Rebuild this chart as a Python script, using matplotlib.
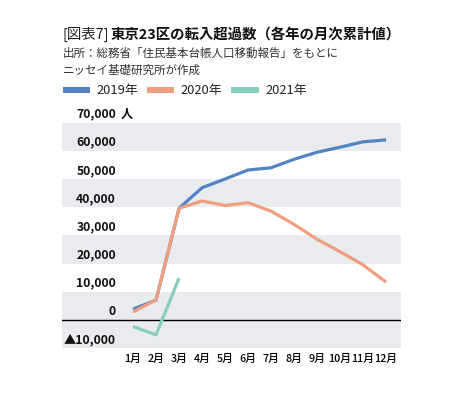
import matplotlib
matplotlib.use('Agg')
import matplotlib.pyplot as plt
import matplotlib.transforms as mtransforms
from matplotlib.patches import Rectangle

plt.rcParams['font.family'] = ['Noto Sans CJK JP', 'DejaVu Sans']

months = ['1月', '2月', '3月', '4月', '5月', '6月', '7月', '8月', '9月', '10月', '11月', '12月']
y2019 = [3800, 7000, 39600, 46900, 50000, 53200, 54000, 57000, 59500, 61300, 63200, 63900]
y2020 = [2800, 7100, 39600, 42200, 40600, 41600, 38600, 33900, 28600, 24200, 19500, 13400]
y2021 = [-2400, -5300, 14800]
yticks = [-10000, 0, 10000, 20000, 30000, 40000, 50000, 60000, 70000]
ytick_labels = ['▲10,000', '0', '10,000', '20,000', '30,000', '40,000', '50,000', '60,000', '70,000']
bands = [(60000, 70000), (40000, 50000), (20000, 30000), (0, 10000), (-10000, 0)]

c2019 = '#5283c4'
c2020 = '#ef9f7f'
c2021 = '#88cdbd'
band_color = '#e9ebee'

fig = plt.figure(figsize=(4.65, 3.95), dpi=100)
ax = fig.add_axes([0.1333, 0.119, 0.7291, 0.5704])

x = list(range(1, len(months) + 1))
for lo, hi in bands:
    ax.axhspan(lo, hi, color=band_color, lw=0, zorder=0)
ax.axhline(0, color='black', lw=1.0, zorder=1)

ax.plot(x, y2019, color=c2019, lw=2.3, zorder=3, solid_capstyle='butt')
ax.plot(x, y2020, color=c2020, lw=2.3, zorder=3, solid_capstyle='butt')
ax.plot(x[:len(y2021)], y2021, color=c2021, lw=2.3, zorder=3, solid_capstyle='butt')

ax.set_xlim(-2.09, 12.65)
ax.set_ylim(-10000, 70000)
for s in ax.spines.values():
    s.set_visible(False)
ax.set_yticks([])
ax.set_xticks(x)
ax.set_xticklabels(months, fontsize=7.8, fontweight='medium')
ax.tick_params(axis='x', length=0, pad=4)

# y labels drawn inside the plot, just above each grid line
off = mtransforms.offset_copy(ax.get_yaxis_transform(), fig=fig, x=0, y=1.5, units='points')
for v, lab in zip(yticks, ytick_labels):
    ax.text(0.159, v, lab, transform=off, ha='right', va='bottom',
            fontsize=8.8, fontweight='bold', color='#111111')
ax.text(0.172, 70000, '人', transform=off, ha='left', va='bottom',
        fontsize=8.8, fontweight='bold', color='#111111')

# title and source
t1 = fig.text(0.135, 0.912, '[図表7]', fontsize=10.4, color='#222222', va='center')
fig.canvas.draw()
bb = t1.get_window_extent().transformed(fig.transFigure.inverted())
fig.text(bb.x1 + 0.002, 0.912, '東京23区の転入超過数（各年の月次累計値）', fontsize=10.4,
         fontweight='bold', color='#111111', va='center')
fig.text(0.135, 0.866, '出所：総務省「住民基本台帳人口移動報告」をもとに', fontsize=8.3,
         color='#333333', va='center')
fig.text(0.135, 0.821, 'ニッセイ基礎研究所が作成', fontsize=8.3, color='#333333', va='center')

# legend
for xp, col, lab in [(0.135, c2019, '2019年'), (0.316, c2020, '2020年'), (0.497, c2021, '2021年')]:
    fig.patches.append(Rectangle((xp, 0.765), 0.059, 0.015, transform=fig.transFigure,
                                 color=col, lw=0))
    fig.text(xp + 0.073, 0.772, lab, fontsize=9.3, color='#222222', va='center')

fig.savefig('out.png', dpi=100)
